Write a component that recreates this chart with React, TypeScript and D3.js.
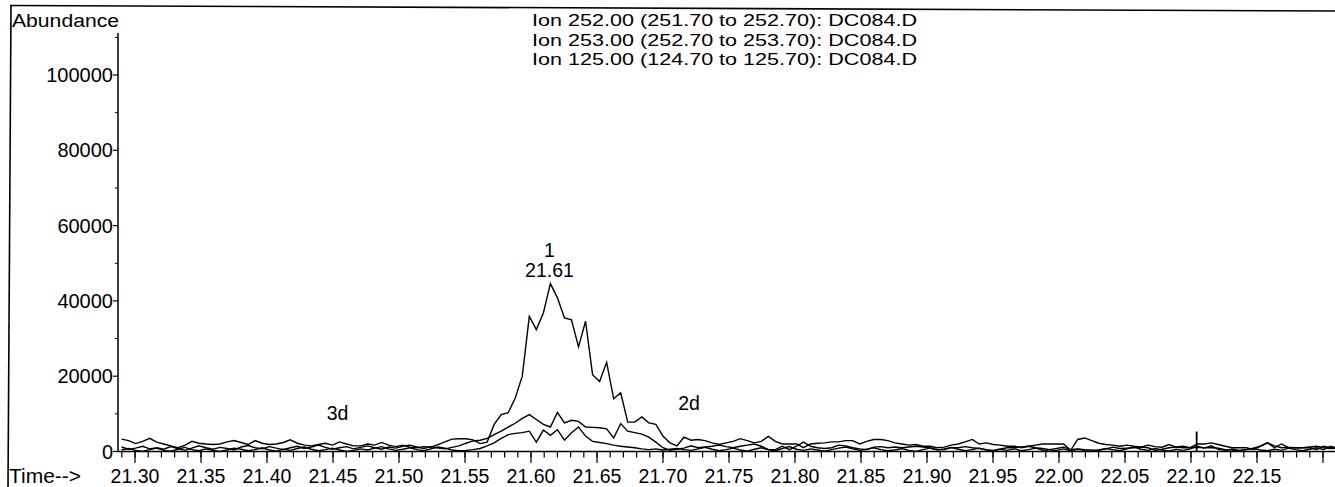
import React, { useEffect } from 'react';
import * as d3 from 'd3';

// Scan grid of the chromatogram (minutes)
const scanStart = 21.2898;
const scanInterval = 0.005326;

// Ion 252.00 (large peak at 21.61)
const ion252 = [
  3300, 2900, 2100, 2700, 3500, 2500, 2000, 1500, 1000, 1600,
  2700, 2200, 2000, 1850, 2000, 2550, 2900, 2400, 1850, 2900,
  2200, 1850, 2000, 2400, 3100, 2200, 1700, 1500, 1850, 2200,
  1700, 2550, 2000, 1500, 1500, 2000, 1700, 2400, 1700, 1300,
  1700, 1150, 1000, 1300, 1150, 1850, 2550, 3300, 3400, 3400,
  3100,
  2100, 2500, 7200, 9800, 10300, 14200, 20000, 35900, 32400, 36800,
  44600, 40800, 35500, 35000, 27800, 34600, 20400, 18600, 23700, 14000,
  15600, 7800, 7800, 9200, 7600, 7200, 4100, 2300, 1500, 3800,
  3000, 3200,
  2900, 2300, 1850, 2300, 2700, 3400, 2900, 2300, 2700, 4000,
  2700, 2000, 2000, 2000, 1000, 2000, 2200, 2300, 2550, 2550,
  2900, 2900, 2000, 2700, 3200, 3200, 2900, 2300, 2000, 1700,
  1850, 1400, 1400, 1000, 1150, 1700, 2000, 2550, 3200, 2000,
  2300, 1850, 1700, 1400, 1400,
  1000, 1400, 1700, 2000, 2000, 2000, 2000, 300, 3200, 3600,
  2900, 2200, 1850, 1700, 1400, 1700, 1400, 1150, 1700, 1300,
  1150, 1850, 1150, 1000, 1000, 2000, 2000, 2300, 1850, 1400,
  1000, 1000, 1000, 500, 1400, 2300, 1000, 2000, 1000, 1000,
  1000, 1000, 500, 1400, 1000, 1150,
];

// Ion 253.00
const ion253 = [
  1200, 600, 900, 1400, 700, 1000, 600, 1300, 800, 300,
  900, 1500, 1000, 600, 1100, 800, 400, 1200, 1600, 1000,
  700, 1300, 900, 500, 1000, 1400, 800, 1200, 1700, 1100,
  600, 1000, 1300, 700, 1100, 1500, 1000, 600, 1200, 900,
  1400, 1700, 1200, 800, 1300, 900, 700, 1100, 1500, 2200,
  2800,
  3000, 3500, 4500, 5400, 6500, 7500, 8800, 9800, 8500, 7200,
  6500, 10400, 7600, 8300, 8000, 6500, 6400, 6300, 6000, 3600,
  7400, 5400, 5000, 4600, 3800, 2500, 1000, 300, 600, 900,
  1500, 1000, 1200, 1400, 1700, 1300, 1000, 1400, 1700, 2000,
  1400, 500, 500, 1400, 500, 1400, 2500, 1400, 1000, 800,
  1000, 1700, 1500, 1000, 700, 500, 1150, 1300, 1000, 1200,
  1000, 1200, 1400, 1200, 1000, 500, 500, 1000, 1000, 1300,
  1000, 800, 500, 300, 700, 1000, 1000,
  1200, 1400, 1000, 800, 500, 800, 1150, 500, 700, 500,
  400, 300, 700, 1150, 800, 900, 1000, 1200, 1000, 300,
  600, 1000, 1200, 1400, 1000, 1100, 1000, 1000, 900, 500,
  300, 300, 500, 900, 1400, 2300, 1500, 1000, 1100, 1000,
  1000, 1200, 1400, 1000, 800, 900,
];

// Ion 125.00
const ion125 = [
  400, 800, 300, 0, 500, 900, 300, 100, 600, 1100,
  500, 200, 700, 300, 0, 400, 900, 600, 200, 500,
  1000, 400, 100, 600, 300, 800, 1200, 600, 200, 500,
  900, 400, 0, 300, 700, 400, 900, 1300, 700, 300,
  600, 1000, 500, 200, 700, 1200, 900, 400, 200, 300,
  500,
  800, 1500, 2300, 3500, 4500, 4800, 5000, 5400, 2500, 5700,
  4300, 5800, 3000, 5000, 6500, 4100, 2700, 2400, 2100, 1700,
  1400, 1200, 1000, 700, 500, 700, 400, 600, 800, 500,
  300, 700, 1100, 600, 200, 500, 900, 400, 100, 600,
  1000, 500, 200, 800, 1300, 600, 300, 700, 400, 100,
  500, 900, 1200, 700, 300, 600, 1000, 500, 200, 400,
  800, 300, 0, 500, 900, 400, 700, 1100, 600, 200,
  500, 900, 400, 100, 600, 300, 700, 200, 500, 900,
  400, 100, 300, 700, 200, 600, 300, 0, 400, 800,
  500, 200, 700, 1200, 600, 300, 800, 400, 100, 600,
  300, 700, 1400, 900, 1500, 600, 300, 700, 200, 500,
  800, 400, 200, 600, 300, 900, 500, 200, 600, 1000,
  500, 1400, 700,
];

const legendLines = [
  'Ion 252.00 (251.70 to 252.70): DC084.D',
  'Ion 253.00 (252.70 to 253.70): DC084.D',
  'Ion 125.00 (124.70 to 125.70): DC084.D',
];

const yTickValues = [0, 20000, 40000, 60000, 80000, 100000];
const yMinorTickValues = [10000, 30000, 50000, 70000, 90000, 110000];
const xTickLabels = [
  '21.30', '21.35', '21.40', '21.45', '21.50', '21.55', '21.60', '21.65', '21.70',
  '21.75', '21.80', '21.85', '21.90', '21.95', '22.00', '22.05', '22.10', '22.15',
];

// Peak / compound labels
const peakLabels = [
  { lines: ['1', '21.61'], time: 21.614, value: 44600 },
];
const compoundLabels = [
  { text: '3d', time: 21.4534, value: 8400 },
  { text: '2d', time: 21.7197, value: 11000 },
];
const markerSpikes = [{ time: 22.1043, value: 5300 }];

const FONT = '"Liberation Sans", Arial, Helvetica, sans-serif';

export default function App() {
  useEffect(() => {
    document.body.style.margin = '0';
  }, []);

  const W = 1335;
  const H = 487;
  const x = d3.scaleLinear().domain([21.2871, 22.2091]).range([118, 1335]);
  const y = d3.scaleLinear().domain([0, 111150]).range([451.5, 33]);
  const times = ion252.map((_, i) => scanStart + i * scanInterval);
  const line = d3
    .line<number>()
    .x((_, i) => x(times[i]))
    .y((d) => y(d));

  const minorX = d3.range(2129, 2221).map((v) => v / 100);
  const majorX = d3.range(2130, 2221, 5).map((v) => v / 100);
  const series = [ion252, ion253, ion125];

  return (
    <svg
      width={W}
      height={H}
      viewBox={`0 0 ${W} ${H}`}
      style={{ display: 'block', position: 'absolute', left: 0, top: 0, background: '#fff' }}
      fontFamily={FONT}
    >
      <defs>
        <clipPath id="plotClip">
          <rect x={118} y={0} width={W - 118} height={452} />
        </clipPath>
      </defs>
      <rect x={0} y={0} width={W} height={H} fill="#fff" />
      {/* outer frame */}
      <line x1={10} y1={5.5} x2={1335} y2={11} stroke="#000" strokeWidth={1.6} />
      <line x1={11} y1={5.5} x2={8} y2={487} stroke="#000" strokeWidth={1.6} />

      {/* legend */}
      {legendLines.map((t, i) => (
        <text
          key={t}
          x={532}
          y={26 + i * 19.5}
          fontSize={17}
          textLength={385}
          lengthAdjust="spacingAndGlyphs"
          fill="#000"
        >
          {t}
        </text>
      ))}

      {/* y axis */}
      <text x={12} y={27} fontSize={19} textLength={107} lengthAdjust="spacingAndGlyphs">
        Abundance
      </text>
      <line x1={118} y1={33} x2={118} y2={452} stroke="#000" strokeWidth={1.5} />
      {yTickValues.map((v) => (
        <g key={v}>
          <line x1={113} x2={118} y1={y(v)} y2={y(v)} stroke="#000" strokeWidth={1.2} />
          <text x={113} y={y(v) + 7} fontSize={20} textAnchor="end">
            {String(v)}
          </text>
        </g>
      ))}
      {yMinorTickValues.map((v) => (
        <line key={v} x1={115} x2={118} y1={y(v)} y2={y(v)} stroke="#000" strokeWidth={1} />
      ))}

      {/* x axis */}
      <line x1={118} y1={451.5} x2={1335} y2={451.5} stroke="#000" strokeWidth={1.6} />
      {minorX.map((t) => (
        <line key={t} x1={x(t)} x2={x(t)} y1={451.5} y2={457.5} stroke="#000" strokeWidth={1.2} />
      ))}
      {majorX.map((t) => (
        <line key={'M' + t} x1={x(t)} x2={x(t)} y1={451.5} y2={463} stroke="#000" strokeWidth={1.2} />
      ))}
      {xTickLabels.map((lab) => (
        <text key={lab} x={x(+lab)} y={483} fontSize={19.5} textAnchor="middle">
          {lab}
        </text>
      ))}
      <text x={9} y={483} fontSize={19.5} textLength={72} lengthAdjust="spacingAndGlyphs">
        Time--&gt;
      </text>

      {/* traces */}
      <g clipPath="url(#plotClip)">
        {series.map((s, k) => (
          <path
            key={k}
            d={line(s) || ''}
            fill="none"
            stroke="#000"
            strokeWidth={1.4}
            strokeLinejoin="miter"
          />
        ))}
        {markerSpikes.map((m) => (
          <line
            key={m.time}
            x1={x(m.time)}
            x2={x(m.time)}
            y1={y(0)}
            y2={y(m.value)}
            stroke="#000"
            strokeWidth={1.8}
          />
        ))}
      </g>

      {/* peak annotations */}
      {peakLabels.map((p) => (
        <g key={p.time}>
          {p.lines.map((t, i) => (
            <text
              key={t}
              x={x(p.time)}
              y={y(p.value) - 7 - (p.lines.length - 1 - i) * 20}
              fontSize={19.5}
              textAnchor="middle"
            >
              {t}
            </text>
          ))}
        </g>
      ))}
      {compoundLabels.map((c) => (
        <text key={c.text} x={x(c.time)} y={y(c.value)} fontSize={19.5} textAnchor="middle">
          {c.text}
        </text>
      ))}
    </svg>
  );
}
